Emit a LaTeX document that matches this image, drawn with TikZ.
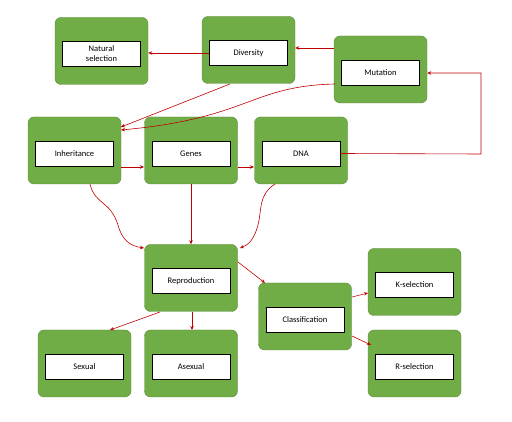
\documentclass[tikz,border=0pt]{standalone}
\usepackage{fontspec}
\setmainfont{Carlito}
\usetikzlibrary{arrows.meta}
\definecolor{gr}{HTML}{70AD47}
\definecolor{ar}{HTML}{C00000}
\begin{document}
\begin{tikzpicture}[x=1pt,y=-1pt,
 gbox/.style={fill=gr,draw=gr!80!black,rounded corners=6pt,minimum width=93pt,minimum height=67pt,inner sep=0pt},
 wbox/.style={fill=white,draw=black,line width=0.3pt,minimum width=78pt,minimum height=25pt,font=\fontsize{8.5}{10}\selectfont,align=center,inner sep=1pt},
 arr/.style={draw=ar,line width=0.6pt,-{Stealth[length=4pt,width=3.5pt]}}]
\useasboundingbox (0,0) rectangle (512,422);
\newcommand{\mybox}[4]{\node[gbox] (#1g) at (#2,#3) {}; \node[wbox] (#1) at (#2,#3+3) {#4};}
\mybox{ns}{101.5}{51}{Natural\\selection}
\mybox{div}{248.5}{50}{Diversity}
\mybox{mut}{380.5}{69.5}{Mutation}
\mybox{inh}{74.5}{150.5}{Inheritance}
\mybox{gen}{191}{150.5}{Genes}
\mybox{dna}{301}{150.5}{DNA}
\mybox{rep}{191}{278}{Reproduction}
\mybox{cla}{305}{316.5}{Classification}
\mybox{ks}{414.5}{282}{K-selection}
\mybox{rs}{414.5}{363.5}{R-selection}
\mybox{sex}{84.5}{363.5}{Sexual}
\mybox{asx}{191}{363.5}{Asexual}
\coordinate (c1) at (481,154);
\coordinate (c2) at (481,73);
\draw[arr] (div.west) -- (nsg.east |- div.west);
\draw[arr] (mutg.west |- 0,48) -- (divg.east |- 0,48);
\draw[arr] (230,84) -- (121,127);
\draw[arr] (335,84) .. controls (250,86) and (250,118) .. (121,130);
\draw[arr] (dna.east) -- (c1) -- (c2) -- (mutg.east |- c2);
\draw[arr] (121,167) -- (144,167);
\draw[arr] (238,167) -- (254,167);
\draw[arr] (90,184) .. controls (95,205) and (110,200) .. (118,225) .. controls (122,240) and (130,246) .. (144,248);
\draw[arr] (geng.south) -- (repg.north);
\draw[arr] (275,184) .. controls (258,195) and (262,210) .. (258,225) .. controls (254,240) and (248,245) .. (240,248);
\draw[arr] (238,262) -- (265,283);
\draw[arr] (160,312) -- (110,330);
\draw[arr] (192,312) -- (192,330);
\draw[arr] (352,297) -- (368,293);
\draw[arr] (352,336) -- (371,345);
\end{tikzpicture}
\end{document}
